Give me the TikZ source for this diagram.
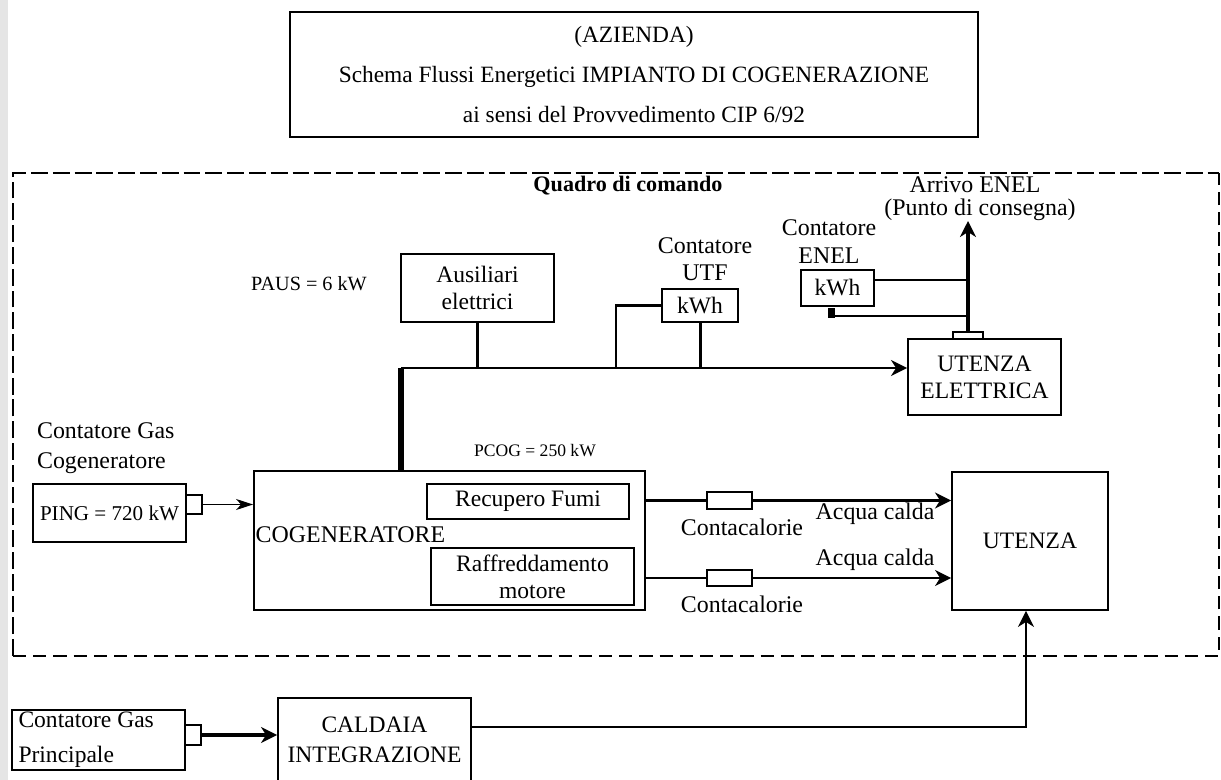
\documentclass[tikz,border=0pt]{standalone}
\usepackage{fontspec}
\setmainfont{Liberation Serif}
\usetikzlibrary{arrows.meta,positioning,calc}
\tikzset{
  cbox/.style={draw, line width=1.1pt, inner sep=1pt, align=center, font=\fontsize{13.4}{15.5}\selectfont},
  ctab/.style={draw, line width=1.1pt, inner sep=0pt, fill=white},
  clabel/.style={font=\fontsize{13.6}{15.5}\selectfont, align=center, inner sep=1pt},
  csmall/.style={font=\fontsize{10}{12}\selectfont, inner sep=1pt},
  cthin/.style={line width=0.8pt},
  cbus/.style={line width=1.7pt},
  cfeed/.style={line width=3.4pt},
  cenel/.style={line width=2.8pt},
  ctip/.style={-{Stealth[length=0.32cm,width=0.32cm,inset=0.1cm]}},
  cframethick/.style={line width=1.7pt, dash pattern=on 9.6pt off 2.8pt},
  cframethin/.style={line width=0.8pt, dash pattern=on 7.5pt off 4pt}
}

\begin{document}
\begin{tikzpicture}[x=0.02cm,y=-0.02cm]
\useasboundingbox (0,0) rectangle (1221,780);
\clip (0,0) rectangle (1221,780);
\fill[gray!20] (0,0) rectangle (7.5,780);

% title block
\node[cbox, minimum width=13.76cm, minimum height=2.5cm, font=\fontsize{13.3}{22.7}\selectfont] (title) at (634,74.5)
  {(AZIENDA)\\Schema Flussi Energetici IMPIANTO DI COGENERAZIONE\\ai sensi del Provvedimento CIP 6/92};

% control panel frame
\draw[cframethick] (13,656) -- (13,173) -- (1219,173);
\draw[cframethin] (13,656) -- (1219,656) -- (1219,173);
\node[font=\bfseries\fontsize{12.6}{14}\selectfont, inner sep=1pt] (quadro) at (628,186) {Quadro di comando};

% electrical side
\node[cbox, minimum width=3.06cm, minimum height=1.36cm] (aus) at (477.5,288) {Ausiliari\\elettrici};
\node[clabel, font=\fontsize{11.5}{14}\selectfont] (paus) at (309,284) {PAUS = 6 kW};
\node[cbox, minimum width=1.52cm, minimum height=0.66cm] (utf) at (700,305.5) {kWh};
\node[clabel] (utflbl) at (705,259) {Contatore\\UTF};
\node[cbox, minimum width=1.46cm, minimum height=0.72cm] (enel) at (837.5,288) {kWh};
\node[clabel] (enellbl) at (829,241.5) {Contatore\\ENEL};
\node[draw, fill=black, inner sep=0pt, minimum width=0.12cm, minimum height=0.18cm] (enelt) at (831,312.5) {};
\node[cbox, minimum width=3.06cm, minimum height=1.52cm] (ue) at (984.5,377) {UTENZA\\ELETTRICA};
\node[ctab, minimum width=0.6cm, minimum height=0.14cm] (uet) at (968,335.5) {};
\node[clabel] (arrivo) at (975,185) {Arrivo ENEL};
\node[clabel] (punto) at (980,210) {(Punto di consegna)};

\coordinate (busL) at (401,368);
\coordinate (utfjoin) at (616,368);
\coordinate (enelA) at (968,280);
\coordinate (enelB) at (968,316);
\coordinate (enelout) at (968,221);

% cogeneration unit
\node[cbox, minimum width=7.82cm, minimum height=2.78cm] (cog) at (449.5,540.5) {};
\node[clabel, anchor=west, inner sep=0.5pt] (cogtxt) at (254.5,535) {COGENERATORE};
\node[cbox, minimum width=4.04cm, minimum height=0.7cm] (fumi) at (528,501.5) {Recupero Fumi};
\node[cbox, minimum width=4.06cm, minimum height=1.14cm] (raff) at (532.5,576.5) {Raffreddamento\\motore};
\node[csmall] (pcog) at (535,451) {PCOG = 250 kW};

\node[clabel, align=left, anchor=west, font=\fontsize{13.6}{17}\selectfont] (gaslbl) at (35,448) {Contatore Gas\\Cogeneratore};
\node[cbox, minimum width=3.06cm, minimum height=1.16cm, font=\fontsize{12}{14}\selectfont] (ping) at (109.5,513) {PING = 720 kW};
\node[ctab, minimum width=0.32cm, minimum height=0.38cm] (pingt) at (194,504.5) {};

% heat side
\node[ctab, minimum width=0.9cm, minimum height=0.34cm] (cc1) at (729.5,500.5) {};
\node[ctab, minimum width=0.9cm, minimum height=0.32cm] (cc2) at (729.5,578) {};
\node[clabel] (cc1lbl) at (742,527) {Contacalorie};
\node[clabel] (cc2lbl) at (742,604) {Contacalorie};
\node[clabel] (acq1) at (875,514) {Acqua calda};
\node[clabel] (acq2) at (875,560) {Acqua calda};
\node[cbox, minimum width=3.12cm, minimum height=2.76cm] (ut) at (1030,541) {UTENZA};

% outside the panel
\node[cbox, align=flush left, text width=3.2cm, inner xsep=0.13cm, minimum height=1.2cm, font=\fontsize{13.4}{19.9}\selectfont] (gp) at (98.5,740) {Contatore Gas\\Principale};
\node[ctab, minimum width=0.32cm, minimum height=0.4cm] (gpt) at (193,735) {};
\node[cbox, minimum width=3.86cm, minimum height=1.68cm, font=\fontsize{13.4}{17}\selectfont] (cal) at (374.5,740) {CALDAIA\\INTEGRAZIONE};
\coordinate (ret) at (1026,727);

% connections
\draw[cfeed] (busL |- cog.north) -- (busL);
\draw[cbus, ctip] (busL) -- (ue.west |- busL);
\draw[cbus] (aus.south) -- (aus.south |- busL);
\draw[cbus] (utf.south) -- (utf.south |- busL);
\draw[cbus] (utf.west) -| (utfjoin);
\draw[cenel, ctip] (uet.north) -- (enelout);
\draw[cbus] (enel.east |- enelA) -- (enelA);
\draw[cthin] (enelt.east |- enelB) -- (enelB);
\draw[cthin, -{Stealth[length=0.34cm,width=0.22cm,inset=0.1cm]}] (pingt.east) -- (cog.west |- pingt.east);
\draw[cbus] (cog.east |- cc1) -- (cc1.west);
\draw[cbus, ctip] (cc1.east) -- (ut.west |- cc1);
\draw[cthin] (cog.east |- cc2) -- (cc2.west);
\draw[cthin, ctip] (cc2.east) -- (ut.west |- cc2);
\draw[cenel, ctip] (gpt.east) -- (cal.west |- gpt.east);
\draw[cthin, ctip] (cal.east |- ret) -- (ret) -- (ret |- ut.south);
\end{tikzpicture}
\end{document}
